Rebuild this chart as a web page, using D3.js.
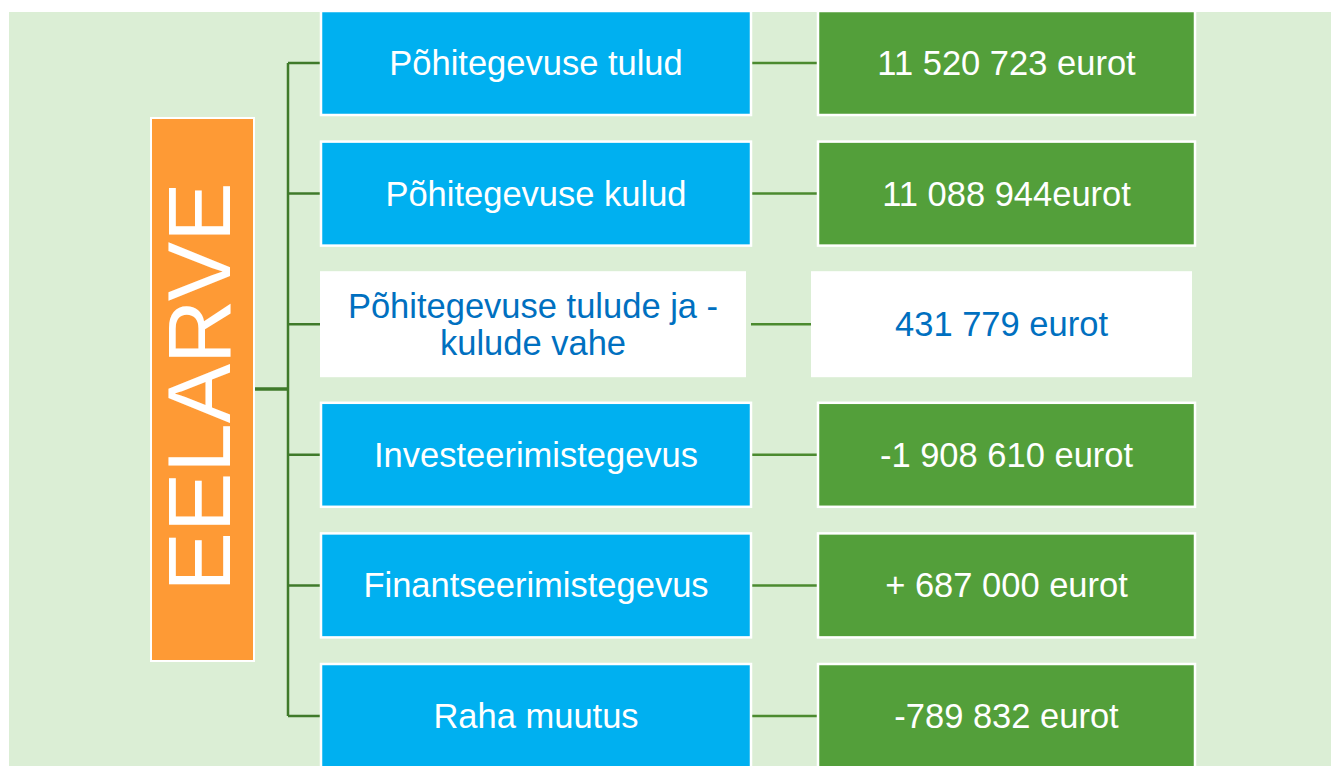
<!DOCTYPE html>
<html>
<head>
<meta charset="utf-8">
<script src="https://cdn.jsdelivr.net/npm/d3@7"></script>
<style>
  html, body { margin: 0; padding: 0; background: #ffffff; }
  svg text { font-family: "Liberation Sans", Arial, sans-serif; }
</style>
</head>
<body>
<svg id="chart" width="1331" height="766"></svg>
<script>
// budget items (left column) and their amounts (right column)
const title = "EELARVE";
const items = [
    "Põhitegevuse tulud",
    "Põhitegevuse kulud",
    "Põhitegevuse tulude ja -|kulude vahe",
    "Investeerimistegevus",
    "Finantseerimistegevus",
    "Raha muutus"
];
const amounts = [
    "11 520 723 eurot",
    "11 088 944eurot",
    "431 779 eurot",
    "-1 908 610 eurot",
    "+ 687 000 eurot",
    "-789 832 eurot"
];
// which rows are highlighted (white box, blue text)
const highlighted = [false, false, true, false, false, false];

const width = 1331, height = 766;
const colors = {
    bg: "#dbeed5",
    blue: "#00b0f0",
    green: "#539f3a",
    orange: "#fe9a35",
    line: "#4b8a2f",
    trunk: "#3f7a2a",
    hiText: "#0070c0"
};

const svg = d3.select("#chart");

// background panel
svg.append("rect")
    .attr("x", 9).attr("y", 12)
    .attr("width", width - 9).attr("height", height - 12)
    .attr("fill", colors.bg);

const rows = items.map(function(d, i) {
    return { label: d, amount: amounts[i], hi: highlighted[i] };
});

// row centres
const y = d3.scalePoint()
    .domain(d3.range(rows.length))
    .range([63, 716]);

const boxH = 104;
const leftBox = { x0: 321, x1: 751, hx0: 320, hx1: 746 };
const rightBox = { x0: 818, x1: 1195, hx0: 811, hx1: 1192 };
const trunkX = 288;

// connector lines
const lines = svg.append("g");
lines.append("line")
    .attr("x1", trunkX).attr("x2", trunkX)
    .attr("y1", y(0)).attr("y2", y(rows.length - 1))
    .attr("stroke", colors.trunk).attr("stroke-width", 2.5);
lines.append("line")
    .attr("x1", 254).attr("x2", trunkX)
    .attr("y1", 389).attr("y2", 389)
    .attr("stroke", colors.trunk).attr("stroke-width", 3.5);
lines.selectAll("line.branch")
    .data(rows)
    .enter().append("line")
        .attr("class", "branch")
        .attr("x1", trunkX).attr("x2", leftBox.x0)
        .attr("y1", function(d, i) { return y(i); })
        .attr("y2", function(d, i) { return y(i); })
        .attr("stroke", colors.trunk).attr("stroke-width", 2.5);
lines.selectAll("line.link")
    .data(rows)
    .enter().append("line")
        .attr("class", "link")
        .attr("x1", leftBox.x1).attr("x2", rightBox.x0)
        .attr("y1", function(d, i) { return y(i); })
        .attr("y2", function(d, i) { return y(i); })
        .attr("stroke", colors.line).attr("stroke-width", 2.5);

// title box
svg.append("rect")
    .attr("x", 151).attr("y", 118)
    .attr("width", 103).attr("height", 543)
    .attr("fill", colors.orange)
    .attr("stroke", "#ffffff").attr("stroke-width", 2);
svg.append("text")
    .attr("transform", "translate(230,387) rotate(-90)")
    .attr("text-anchor", "middle")
    .attr("fill", "#ffffff")
    .attr("font-size", 89)
    .text(title);

// boxes for each row
function drawBoxes(cls, box, fill, textOf) {
    let g = svg.selectAll("g." + cls)
        .data(rows)
        .enter().append("g")
            .attr("class", cls)
            .attr("transform", function(d, i) { return "translate(0," + y(i) + ")"; });

    g.append("rect")
        .attr("x", function(d) { return d.hi ? box.hx0 : box.x0; })
        .attr("y", function(d) { return d.hi ? -53 : -boxH / 2; })
        .attr("width", function(d) { return d.hi ? box.hx1 - box.hx0 : box.x1 - box.x0; })
        .attr("height", function(d) { return d.hi ? 106 : boxH; })
        .attr("fill", function(d) { return d.hi ? "#ffffff" : fill; })
        .attr("stroke", function(d) { return d.hi ? "none" : "#ffffff"; })
        .attr("stroke-width", 2.5);

    g.append("text")
        .attr("text-anchor", "middle")
        .attr("font-size", 34.5)
        .attr("fill", function(d) { return d.hi ? colors.hiText : "#ffffff"; })
        .each(function(d) {
            let cx = d.hi ? (box.hx0 + box.hx1) / 2 : (box.x0 + box.x1) / 2;
            let parts = textOf(d).split("|");
            let t = d3.select(this);
            parts.forEach(function(p, k) {
                t.append("tspan")
                    .attr("x", cx)
                    .attr("dy", k === 0 ? (0.35 - (parts.length - 1) * 0.53) + "em" : "1.06em")
                    .text(p);
            });
        });
}

drawBoxes("left", leftBox, colors.blue, function(d) { return d.label; });
drawBoxes("right", rightBox, colors.green, function(d) { return d.amount; });
</script>
</body>
</html>
